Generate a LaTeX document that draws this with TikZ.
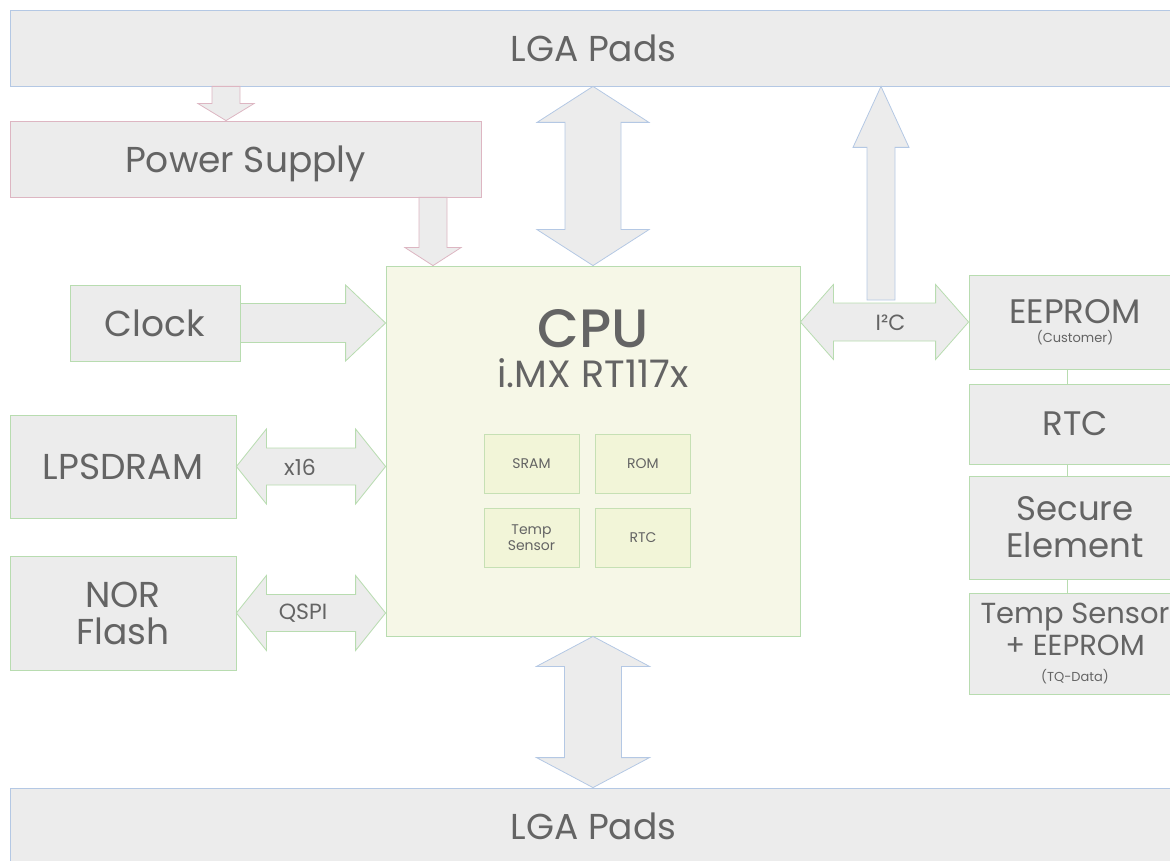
\documentclass[tikz,border=0pt]{standalone}
\usepackage{fontspec}
\setmainfont{Poppins}
\IfFontExistsTF{Poppins Medium}{\newfontfamily\cpufont{Poppins Medium}}{\newcommand{\cpufont}{\bfseries}}
\usetikzlibrary{calc,positioning}
\definecolor{boxFill}{HTML}{ECECEC}
\definecolor{cpuFill}{HTML}{F6F7E7}
\definecolor{memFill}{HTML}{F2F5D8}
\definecolor{padColor}{HTML}{B4C8E4}
\definecolor{pwrColor}{HTML}{DDB6C2}
\definecolor{sigColor}{HTML}{B8DCB0}
\definecolor{memColor}{HTML}{C6E0B4}
\definecolor{txtColor}{HTML}{646464}
\newcommand{\bigfont}{\fontsize{36}{37}\selectfont}
\newcommand{\midfont}{\fontsize{22}{24}\selectfont}
\newcommand{\smallfont}{\fontsize{14}{16}\selectfont}
\newcommand{\tinyfont}{\fontsize{13}{14}\selectfont}
% block arrows: [style]{from}{to}{shaft half width}{head half width}{head length}
\newcommand{\blockdown}[6][]{\draw[#1] let \p1=(#2), \p2=(#3) in
	(\x2-#4pt,\y1) -- (\x2-#4pt,\y2+#6pt) -- (\x2-#5pt,\y2+#6pt) -- (\x2,\y2)
	-- (\x2+#5pt,\y2+#6pt) -- (\x2+#4pt,\y2+#6pt) -- (\x2+#4pt,\y1) -- cycle;}
\newcommand{\blockup}[6][]{\draw[#1] let \p1=(#2), \p2=(#3) in
	(\x2-#4pt,\y1) -- (\x2-#4pt,\y2-#6pt) -- (\x2-#5pt,\y2-#6pt) -- (\x2,\y2)
	-- (\x2+#5pt,\y2-#6pt) -- (\x2+#4pt,\y2-#6pt) -- (\x2+#4pt,\y1) -- cycle;}
\newcommand{\blockright}[6][]{\draw[#1] let \p1=(#2), \p2=(#3) in
	(\x1,\y2+#4pt) -- (\x2-#6pt,\y2+#4pt) -- (\x2-#6pt,\y2+#5pt) -- (\x2,\y2)
	-- (\x2-#6pt,\y2-#5pt) -- (\x2-#6pt,\y2-#4pt) -- (\x1,\y2-#4pt) -- cycle;}
\newcommand{\blockvv}[6][]{\draw[#1] let \p1=(#2), \p2=(#3) in
	(\x1,\y1) -- (\x1+#5pt,\y1-#6pt) -- (\x1+#4pt,\y1-#6pt) -- (\x1+#4pt,\y2+#6pt)
	-- (\x1+#5pt,\y2+#6pt) -- (\x1,\y2) -- (\x1-#5pt,\y2+#6pt) -- (\x1-#4pt,\y2+#6pt)
	-- (\x1-#4pt,\y1-#6pt) -- (\x1-#5pt,\y1-#6pt) -- cycle;}
\newcommand{\blockhh}[6][]{\draw[#1] let \p1=(#2), \p2=(#3) in
	(\x1,\y1) -- (\x1+#6pt,\y1+#5pt) -- (\x1+#6pt,\y1+#4pt) -- (\x2-#6pt,\y1+#4pt)
	-- (\x2-#6pt,\y1+#5pt) -- (\x2,\y1) -- (\x2-#6pt,\y1-#5pt) -- (\x2-#6pt,\y1-#4pt)
	-- (\x1+#6pt,\y1-#4pt) -- (\x1+#6pt,\y1-#5pt) -- cycle;}
\begin{document}
\begin{tikzpicture}[x=1pt,y=-1pt,line width=0.8pt,
		block/.style={draw=sigColor, fill=boxFill, text=txtColor, inner sep=0, align=center, font=\bigfont},
		pads/.style={block, draw=padColor},
		power/.style={block, draw=pwrColor},
		mem/.style={block, draw=memColor, fill=memFill, font=\smallfont, minimum width=95, minimum height=59},
		padarrow/.style={draw=padColor, fill=boxFill},
		pwrarrow/.style={draw=pwrColor, fill=boxFill},
		sigarrow/.style={draw=sigColor, fill=boxFill},
		buslabel/.style={text=txtColor, font=\midfont, inner sep=0},
		link/.style={draw=sigColor}]
	\clip (0,0) rectangle (1170,861);
	\node[pads, minimum width=1167, minimum height=76] (lgatop) at (593.5,48) {LGA Pads};
	\node[pads, minimum width=1167, minimum height=76] (lgabot) at (593.5,826) {LGA Pads};
	\node[power, minimum width=471, minimum height=76, text depth=0pt] (power) at (245.5,159) {Power Supply};
	\node[block, fill=cpuFill, minimum width=414, minimum height=370] (cpu) at (593,451) {};
	\node[text=txtColor, font=\fontsize{54}{56}\selectfont\cpufont, anchor=base, inner sep=0] (cputitle) at (593,347) {CPU};
	\node[text=txtColor, font=\fontsize{38}{38}\selectfont, anchor=base, inner sep=0] (cpuname) at (593,387) {i.MX RT117x};
	\node[mem] (sram) at (531.5,463.5) {SRAM};
	\node[mem] (rom) at (643,463.5) {ROM};
	\node[mem, font=\fontsize{14}{16}\selectfont] (tsense) at (531.5,537.5) {Temp\\Sensor};
	\node[mem] (rtcin) at (643,537.5) {RTC};
	\node[block, minimum width=170, minimum height=76] (clock) at (155,323) {Clock};
	\node[block, minimum width=226, minimum height=103] (lpsdram) at (123,466.5) {LPSDRAM};
	\node[block, minimum width=226, minimum height=114] (nor) at (123,613) {NOR\\Flash};
	\node[block, minimum width=212, minimum height=94, font=\fontsize{34}{30}\selectfont] (eeprom) at (1075,322) {EEPROM\\[-11pt]{\tinyfont(Customer)}};
	\node[block, minimum width=212, minimum height=80, font=\fontsize{34}{36}\selectfont] (rtc) at (1075,424) {RTC};
	\node[block, minimum width=212, minimum height=103, font=\fontsize{34}{37}\selectfont] (secure) at (1075,527.5) {Secure\\Element};
	\node[block, minimum width=212, minimum height=101, font=\fontsize{29}{32}\selectfont] (tqdata) at (1075,643.5) {Temp Sensor\\+ EEPROM\\[-6pt]{\tinyfont(TQ-Data)}};
	\draw[link] ([xshift=-8pt]eeprom.south) -- ([xshift=-8pt]rtc.north);
	\draw[link] ([xshift=-8pt]rtc.south) -- ([xshift=-8pt]secure.north);
	\draw[link] ([xshift=-8pt]secure.south) -- ([xshift=-8pt]tqdata.north);
	% power
	\blockdown[pwrarrow]{226,0 |- lgatop.south}{226,0 |- power.north}{14}{28}{17}
	\blockdown[pwrarrow]{433,0 |- power.south}{433,0 |- cpu.north}{14}{28}{18}
	% pads
	\blockvv[padarrow]{cpu.north |- lgatop.south}{cpu.north}{28}{56}{36}
	\blockvv[padarrow]{cpu.south}{cpu.south |- lgabot.north}{28.5}{56.5}{30}
	\coordinate (i2ctap) at (881,300);
	\blockup[padarrow]{i2ctap}{i2ctap |- lgatop.south}{14}{28}{61}
	% buses
	\blockright[sigarrow]{clock.east}{cpu.west |- clock.east}{19.5}{38}{40}
	\blockhh[sigarrow]{lpsdram.east}{cpu.west |- lpsdram.east}{18.5}{37.5}{30}
	\blockhh[sigarrow]{nor.east}{cpu.west |- nor.east}{18.5}{37.5}{30}
	\blockhh[sigarrow]{cpu.east |- eeprom.west}{eeprom.west}{19}{37.5}{33}
	\node[buslabel] (x16) at ($(lpsdram.east)!0.5!(cpu.west |- lpsdram.east)+(-11,1)$) {x16};
	\node[buslabel] (qspi) at ($(nor.east)!0.5!(cpu.west |- nor.east)+(-8,0)$) {QSPI};
	\node[buslabel] (i2c) at ($(cpu.east |- eeprom.west)!0.5!(eeprom.west)+(6,1)$) {I²C};
\end{tikzpicture}
\end{document}
